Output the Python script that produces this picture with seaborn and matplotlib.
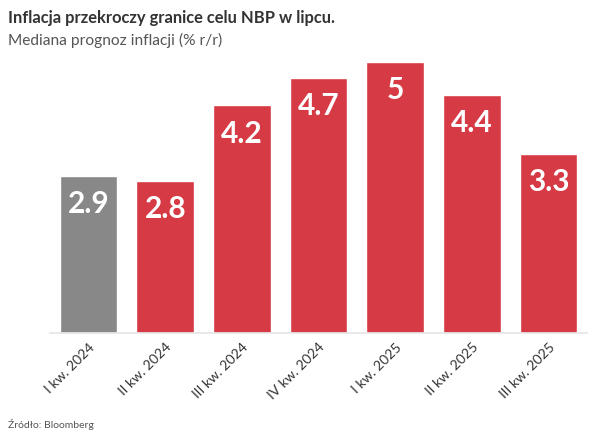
import matplotlib
matplotlib.use("Agg")
import matplotlib.pyplot as plt
import seaborn as sns
import pandas as pd

quarters = ["I kw. 2024", "II kw. 2024", "III kw. 2024", "IV kw. 2024",
            "I kw. 2025", "II kw. 2025", "III kw. 2025"]
values = [2.9, 2.8, 4.2, 4.7, 5.0, 4.4, 3.3]
labels = ["2.9", "2.8", "4.2", "4.7", "5", "4.4", "3.3"]
status = ["actual", "forecast", "forecast", "forecast", "forecast", "forecast", "forecast"]

df = pd.DataFrame({"quarter": quarters, "value": values, "status": status})

sns.set_theme(style="white")
plt.rcParams["font.family"] = ["Lato", "DejaVu Sans"]

fig = plt.figure(figsize=(6.05, 4.34), dpi=100)
ax = fig.add_axes([0.083, 0.233, 0.887, 0.624])

sns.barplot(data=df, x="quarter", y="value", hue="status",
            palette={"actual": "#888888", "forecast": "#d63a44"},
            width=0.755, dodge=False, legend=False, ax=ax, saturation=1)

# value labels inside the bars
for i, (v, lab) in enumerate(zip(values, labels)):
    ax.text(i, v - 0.52, lab, ha="center", va="center", color="white",
            fontsize=21.5, fontweight="bold")

ax.set_xlim(-0.5, len(quarters) - 0.5)
ax.set_ylim(0, 5.0)
ax.set_xlabel("")
ax.set_ylabel("")
ax.set_yticks([])
for s in ["top", "right", "left"]:
    ax.spines[s].set_visible(False)
ax.spines["bottom"].set_color("#e6e6e6")
ax.tick_params(axis="x", length=4, color="#e6e6e6", pad=2, labelsize=10, labelcolor="#333333")
plt.setp(ax.get_xticklabels(), rotation=45, ha="right", rotation_mode="anchor")

fig.text(0.013, 0.958, "Inflacja przekroczy granice celu NBP w lipcu.", fontsize=11.9,
         fontweight="bold", color="#333333", ha="left", va="center")
fig.text(0.013, 0.907, "Mediana prognoz inflacji (% r/r)", fontsize=11.2,
         color="#555555", ha="left", va="center")
fig.text(0.013, 0.022, "Źródło: Bloomberg", fontsize=7.5, color="#555555",
         ha="left", va="center")

fig.savefig("out.png", dpi=100)
